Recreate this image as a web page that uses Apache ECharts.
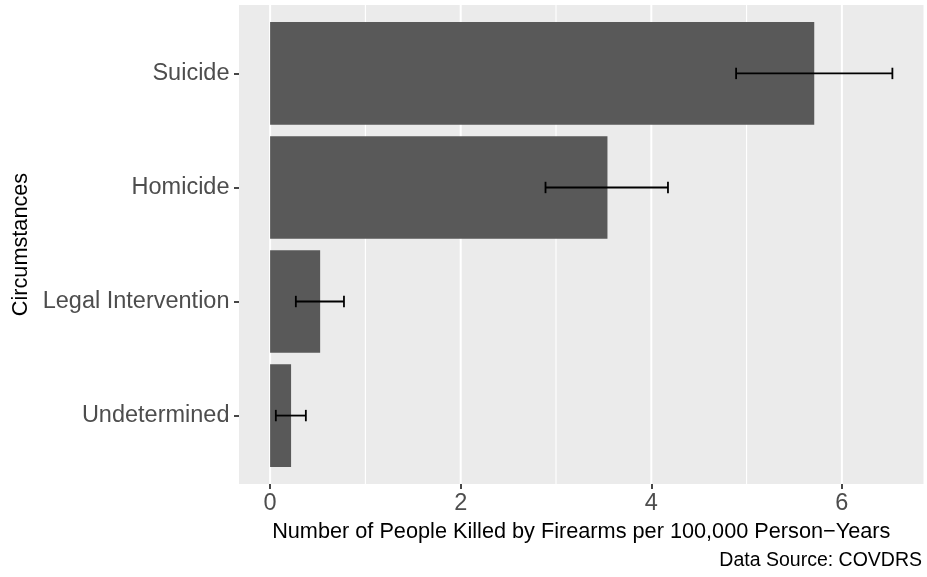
<!DOCTYPE html>
<html>
<head>
<meta charset="utf-8">
<script src="https://cdn.jsdelivr.net/npm/echarts@6/dist/echarts.min.js"></script>
<style>html,body{margin:0;padding:0;background:#fff}#c{width:927px;height:577px}</style>
</head>
<body>
<div id="c"></div>
<script>
const categories = ['Suicide', 'Homicide', 'Legal Intervention', 'Undetermined'];
const rates = [5.71, 3.54, 0.525, 0.22];
const lower = [4.89, 2.89, 0.27, 0.06];
const upper = [6.53, 4.175, 0.775, 0.375];
const xMajorTicks = [0, 2, 4, 6];
const xMinorTicks = [1, 3, 5];
const xTitle = 'Number of People Killed by Firearms per 100,000 Person\u2212Years';
const yTitle = 'Circumstances';
const caption = 'Data Source: COVDRS';

const FONT = 'Liberation Sans, Arial, sans-serif';
const catPos = categories.map((c, i) => i + 1);
const yMin = 0.4, yMax = categories.length + 0.6;
const dataMax = Math.max(...upper);
const xMin = -0.05 * dataMax, xMax = dataMax * 1.05;

const barData = categories.map((c, i) => [rates[i], catPos[i]]);
const errData = categories.map((c, i) => [lower[i], upper[i], catPos[i]]);
const gridData = xMajorTicks.map(v => [v, 1]).concat(xMinorTicks.map(v => [v, 0]));

const chart = echarts.init(document.getElementById('c'), null, {renderer: 'canvas'});
chart.setOption({
  animation: false,
  backgroundColor: '#ffffff',
  title: {
    text: caption, right: 5, top: 551, padding: 0,
    textStyle: {fontFamily: FONT, fontSize: 19.5, fontWeight: 'normal', color: '#000'}
  },
  grid: {left: 239, right: 3.5, top: 5, bottom: 93, show: true, backgroundColor: '#ebebeb', borderWidth: 0},
  xAxis: {
    type: 'value', min: xMin, max: xMax,
    name: xTitle, nameLocation: 'middle', nameGap: 36,
    nameTextStyle: {fontFamily: FONT, fontSize: 21.7, color: '#000'},
    axisLine: {show: false, onZero: false},
    axisTick: {show: true, length: 5, customValues: xMajorTicks, lineStyle: {color: '#333', width: 1.8}},
    axisLabel: {customValues: xMajorTicks, margin: 8, fontFamily: FONT, fontSize: 23.5, color: '#4d4d4d'},
    splitLine: {show: false}
  },
  yAxis: {
    type: 'value', min: yMin, max: yMax, inverse: true,
    name: yTitle, nameLocation: 'middle', nameGap: 206, nameRotate: 90,
    nameTextStyle: {fontFamily: FONT, fontSize: 21.7, color: '#000'},
    axisLine: {show: false, onZero: false},
    axisTick: {show: true, length: 5, customValues: catPos, lineStyle: {color: '#333', width: 1.8}},
    axisLabel: {customValues: catPos, margin: 9.5, fontFamily: FONT, fontSize: 23.5, color: '#4d4d4d',
      formatter: v => categories[Math.round(v) - 1] || ''},
    splitLine: {show: false}
  },
  series: [
    {
      type: 'custom', z: 1, silent: true,
      data: gridData,
      renderItem: (params, api) => {
        const v = api.value(0), major = api.value(1);
        const p1 = api.coord([v, yMin]);
        const p2 = api.coord([v, yMax]);
        return {type: 'line', shape: {x1: p1[0], y1: p1[1], x2: p2[0], y2: p2[1]},
          style: {stroke: '#ffffff', lineWidth: major ? 2 : 1.1}};
      }
    },
    {
      type: 'custom', z: 2,
      data: barData,
      renderItem: (params, api) => {
        const v = api.value(0), c = api.value(1);
        const a = api.coord([0, c - 0.45]);
        const b = api.coord([v, c + 0.45]);
        return {type: 'rect', shape: {x: a[0], y: Math.min(a[1], b[1]), width: b[0] - a[0], height: Math.abs(b[1] - a[1])},
          style: {fill: '#595959'}};
      }
    },
    {
      type: 'custom', z: 3,
      data: errData,
      renderItem: (params, api) => {
        const lo = api.value(0), hi = api.value(1), c = api.value(2);
        const l = api.coord([lo, c]), h = api.coord([hi, c]);
        const lt = api.coord([lo, c - 0.05]), lb = api.coord([lo, c + 0.05]);
        const ht = api.coord([hi, c - 0.05]), hb = api.coord([hi, c + 0.05]);
        const st = {stroke: '#000', lineWidth: 1.8};
        return {type: 'group', children: [
          {type: 'line', shape: {x1: l[0], y1: l[1], x2: h[0], y2: h[1]}, style: st},
          {type: 'line', shape: {x1: lt[0], y1: lt[1], x2: lb[0], y2: lb[1]}, style: st},
          {type: 'line', shape: {x1: ht[0], y1: ht[1], x2: hb[0], y2: hb[1]}, style: st}
        ]};
      }
    }
  ]
});
</script>
</body>
</html>
